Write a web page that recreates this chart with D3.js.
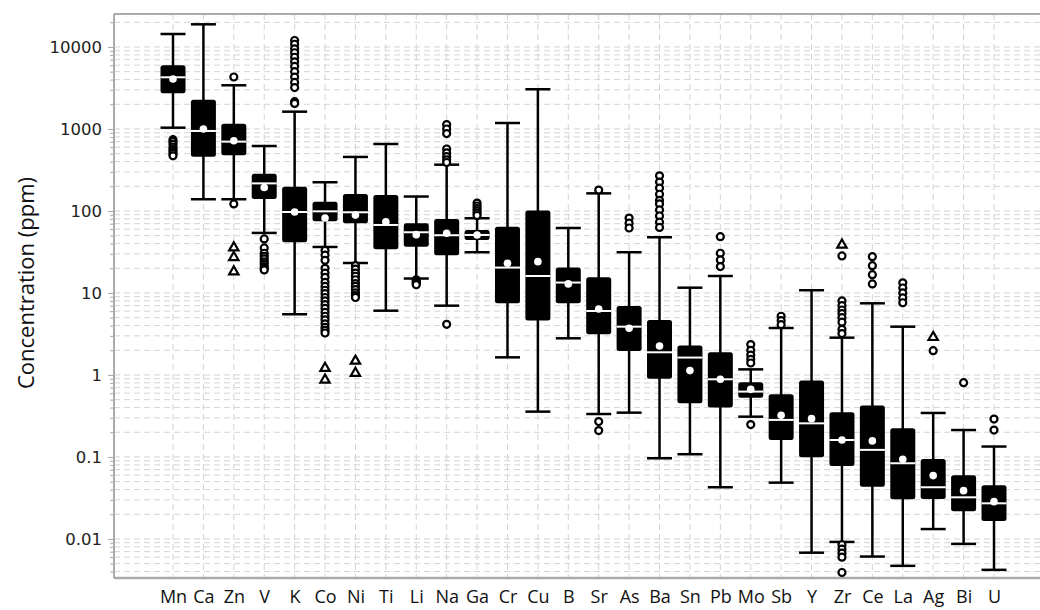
<!DOCTYPE html>
<html>
<head>
<meta charset="utf-8">
<script src="https://cdn.jsdelivr.net/npm/d3@7"></script>
<style>
  body { margin: 0; background: #fff; }
  svg { display: block; }
</style>
</head>
<body>
<svg id="chart"></svg>
<script>
const elements = ['Mn', 'Ca', 'Zn', 'V', 'K', 'Co', 'Ni', 'Ti', 'Li', 'Na', 'Ga', 'Cr', 'Cu', 'B',
    'Sr', 'As', 'Ba', 'Sn', 'Pb', 'Mo', 'Sb', 'Y', 'Zr', 'Ce', 'La', 'Ag', 'Bi', 'U'];
const whiskLow = [1037, 139, 139, 54, 5.5, 36.4, 23.2, 6.08, 15.0, 7.0, 31.4, 1.64, 0.357, 2.8,
    0.334, 0.347, 0.0964, 0.108, 0.0427, 0.31, 0.0486, 0.0068, 0.0092, 0.0061, 0.0047, 0.0132, 0.0087, 0.0042];
const q1 = [2720, 459, 478, 140, 41.5, 74.8, 70.8, 34.1, 36.7, 28.8, 44.3, 7.48, 4.6, 7.5,
    3.13, 1.96, 0.90, 0.452, 0.40, 0.529, 0.161, 0.099, 0.0777, 0.0434, 0.0305, 0.0308, 0.0217, 0.0166];
const medians = [4270, 946, 701, 217, 97.2, 99, 96.4, 67.5, 55, 50.6, 51, 20.4, 16.1, 13.4,
    6.03, 3.88, 1.89, 1.63, 0.885, 0.627, 0.283, 0.257, 0.161, 0.122, 0.0838, 0.0427, 0.0322, 0.0272];
const q3 = [5980, 2277, 1161, 285, 198, 130, 161, 157, 70.8, 80, 58.7, 64.4, 101, 20.4,
    15.5, 6.94, 4.69, 2.28, 1.89, 0.814, 0.58, 0.853, 0.351, 0.423, 0.224, 0.0946, 0.0598, 0.0451];
const whiskHigh = [14400, 18900, 3410, 620, 1626, 224, 456, 656, 150, 367, 81.5, 1183, 3050, 62,
    164, 31.4, 47.8, 11.6, 16.1, 1.17, 3.74, 10.8, 2.85, 7.48, 3.88, 0.344, 0.213, 0.134];
const means = [4070, 1000, 720, 193, 97, 82, 89, 74, 51.4, 53.5, 51, 23, 24.1, 12.9,
    6.38, 3.71, 2.26, 1.13, 0.885, 0.668, 0.322, 0.293, 0.161, 0.157, 0.0937, 0.0592, 0.0388, 0.0285];
// open circles
const outliers = [
    [740, 700, 650, 600, 560, 530, 500, 470],
    [],
    [4305, 122],
    [45.6, 35.4, 30.5, 28, 26, 24, 22.5, 21, 20, 19.1],
    [12000, 10800, 9500, 8500, 7500, 6600, 5800, 5000, 4300, 3700, 3200, 2150, 2050],
    [33, 29, 25, 20, 17.5, 15.5, 13.5, 12, 10.8, 9.8, 8.8, 8, 7.2, 6.5, 5.8, 5.2, 4.7, 4.2, 3.8, 3.5, 3.25],
    [21.5, 19.5, 17.5, 16, 14.5, 13, 12, 11, 10, 9.3, 8.8],
    [],
    [14.5, 14, 13.5, 13, 12.6],
    [1130, 1000, 880, 570, 510, 460, 420, 390, 4.15],
    [125, 115, 107, 100, 94, 88],
    [],
    [],
    [],
    [180, 0.27, 0.21],
    [82, 71, 62],
    [268, 225, 190, 160, 135, 122, 103, 87, 73, 63],
    [],
    [48.6, 30.5, 25.3, 21],
    [2.35, 2.0, 1.75, 1.55, 1.4, 0.248],
    [5.2, 4.6, 4.1],
    [],
    [28.3, 8.0, 7.0, 6.2, 5.6, 5.0, 4.4, 3.6, 3.2, 0.0085, 0.0075, 0.0067, 0.006, 0.0039],
    [27.7, 21.5, 16.7, 12.9],
    [13.3, 11.5, 10, 8.7, 7.6],
    [1.98],
    [0.805],
    [0.29, 0.213]
];
// open triangles
const extremes = [
    [], [], [35.7, 27.2, 18.2], [], [], [1.21, 0.87], [1.48, 1.05], [], [], [], [], [], [], [],
    [], [], [], [], [], [], [], [], [38.5], [], [], [2.88], [], []
];
const yTicks = [0.01, 0.1, 1, 10, 100, 1000, 10000];

let width = 1040;
let height = 610;
let margin = {top: 14, bot: 32, left: 114, right: -10};
let config = {
    width: width - margin.left - margin.right,
    height: height - margin.top - margin.bot,
    margin: margin
};

let svg = d3.select('#chart')
    .attr('width', width)
    .attr('height', height);

let xScale = d3.scalePoint()
    .domain(elements)
    .range([59, 880]);
let yScale = d3.scaleLog()
    .domain([0.00334, 25250])
    .range([config.height, 0]);

let plot = svg.append('g')
    .attr('transform', `translate(${margin.left},${margin.top})`);

// grid
let minor = [];
for (let e = -3; e <= 4; e++) {
    for (let m = 1; m <= 9; m++) {
        let v = m * Math.pow(10, e);
        if (v >= yScale.domain()[0] && v <= yScale.domain()[1]) minor.push(v);
    }
}
plot.append('g')
    .selectAll('line')
    .data(minor)
    .join('line')
    .attr('x1', 0)
    .attr('x2', config.width)
    .attr('y1', d => yScale(d))
    .attr('y2', d => yScale(d))
    .attr('stroke', '#d4d4d4')
    .attr('stroke-width', 1)
    .attr('stroke-dasharray', '6,4');
plot.append('g')
    .selectAll('line')
    .data(elements)
    .join('line')
    .attr('x1', d => xScale(d))
    .attr('x2', d => xScale(d))
    .attr('y1', 0)
    .attr('y2', config.height)
    .attr('stroke', '#d4d4d4')
    .attr('stroke-width', 1)
    .attr('stroke-dasharray', '6,4');

// y axis
let yAx = d3.axisLeft(yScale)
    .tickValues(minor)
    .tickSize(4)
    .tickFormat(d => yTicks.includes(d) ? d3.format('~g')(d) : '');
let yAxGroup = plot.append('g').call(yAx);
yAxGroup.select('.domain').remove();
yAxGroup.selectAll('.tick line')
    .attr('stroke', '#aaa')
    .attr('x2', d => yTicks.includes(d) ? -6 : -4);
yAxGroup.selectAll('.tick text')
    .attr('x', -12)
    .attr('fill', '#222')
    .style('font-family', 'DejaVu Sans, sans-serif')
    .style('font-size', '16.5px');

// x axis labels
let xAx = d3.axisBottom(xScale).tickSize(0);
let xAxGroup = plot.append('g')
    .attr('transform', `translate(0,${config.height})`)
    .call(xAx);
xAxGroup.select('.domain').remove();
xAxGroup.selectAll('.tick text')
    .attr('y', 25)
    .attr('dy', 0)
    .attr('fill', '#111')
    .style('font-family', 'Open Sans, sans-serif')
    .style('font-size', '18px');

// frame
plot.append('line')
    .attr('x1', 0).attr('x2', 0).attr('y1', 0).attr('y2', config.height)
    .attr('stroke', '#aaa').attr('stroke-width', 2);
plot.append('line')
    .attr('x1', 0).attr('x2', config.width).attr('y1', 0).attr('y2', 0)
    .attr('stroke', '#aaa').attr('stroke-width', 2);
plot.append('line')
    .attr('x1', 0).attr('x2', config.width).attr('y1', config.height).attr('y2', config.height)
    .attr('stroke', '#aaa').attr('stroke-width', 2.5);

svg.append('text')
    .attr('transform', `translate(34,283) rotate(-90)`)
    .attr('text-anchor', 'middle')
    .attr('fill', '#111')
    .style('font-family', 'Open Sans, sans-serif')
    .style('font-size', '22px')
    .text('Concentration (ppm)');

// boxes
let boxW = 25;
let rows = elements.map((el, i) => ({
    el: el, lo: whiskLow[i], q1: q1[i], med: medians[i], q3: q3[i], hi: whiskHigh[i], mean: means[i],
    out: outliers[i], ext: extremes[i]
}));
let boxes = plot.append('g')
    .selectAll('g')
    .data(rows)
    .join('g')
    .attr('transform', d => `translate(${xScale(d.el)},0)`);

boxes.append('line')
    .attr('y1', d => yScale(d.lo))
    .attr('y2', d => yScale(d.hi))
    .attr('stroke', '#000')
    .attr('stroke-width', 2.5);
boxes.selectAll('.cap')
    .data(d => [d.lo, d.hi])
    .join('line')
    .attr('class', 'cap')
    .attr('x1', -boxW / 2)
    .attr('x2', boxW / 2)
    .attr('y1', d => yScale(d))
    .attr('y2', d => yScale(d))
    .attr('stroke', '#000')
    .attr('stroke-width', 2.5);
boxes.append('rect')
    .attr('x', -boxW / 2)
    .attr('width', boxW)
    .attr('y', d => yScale(d.q3))
    .attr('height', d => yScale(d.q1) - yScale(d.q3))
    .attr('rx', 2.5)
    .attr('fill', '#000');
boxes.append('line')
    .attr('x1', -boxW / 2)
    .attr('x2', boxW / 2)
    .attr('y1', d => yScale(d.med))
    .attr('y2', d => yScale(d.med))
    .attr('stroke', '#fff')
    .attr('stroke-width', 2);
boxes.append('circle')
    .attr('cy', d => yScale(d.mean))
    .attr('r', 3.8)
    .attr('fill', '#fff');

boxes.selectAll('.out')
    .data(d => d.out)
    .join('circle')
    .attr('class', 'out')
    .attr('cy', d => yScale(d))
    .attr('r', 3.5)
    .attr('fill', '#fff')
    .attr('stroke', '#000')
    .attr('stroke-width', 2.2);
boxes.selectAll('.ext')
    .data(d => d.ext)
    .join('path')
    .attr('class', 'ext')
    .attr('d', d3.symbol().type(d3.symbolTriangle).size(38))
    .attr('transform', d => `translate(0,${yScale(d)})`)
    .attr('fill', '#fff')
    .attr('stroke', '#000')
    .attr('stroke-width', 2.2);
</script>
</body>
</html>
